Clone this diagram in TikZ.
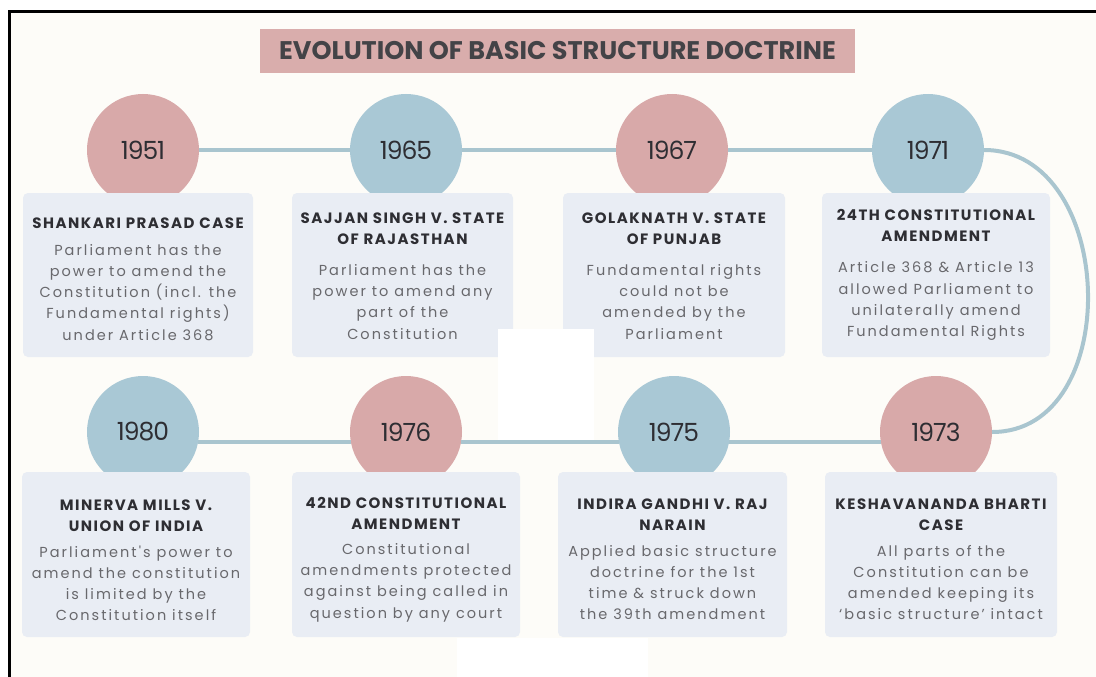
\documentclass[tikz,border=0pt]{standalone}
\usepackage{fontspec}
\setmainfont{Poppins}
\newfontfamily\yearfont[LetterSpace=-4]{Poppins}
\newfontfamily\headfont[LetterSpace=10]{Poppins}
\newfontfamily\bodyfont[LetterSpace=14]{Poppins}
\definecolor{rosefill}{HTML}{D8A9A9}
\definecolor{skyfill}{HTML}{A9C8D5}
\definecolor{railcol}{HTML}{A9C5CF}
\definecolor{cardfill}{HTML}{E9EDF4}
\definecolor{cream}{HTML}{FDFCF8}
\definecolor{ink}{HTML}{2E2E33}
\definecolor{grayink}{HTML}{68686C}
\definecolor{bannerfill}{HTML}{D9ADAC}
\newcommand\headtxt{\headfont\bfseries\fontsize{15}{21}\selectfont\color{ink}}
\newcommand\bodytxt{\bodyfont\mdseries\fontsize{14.5}{21.2}\selectfont\color{grayink}}
\newcommand\cardtext[2][0pt]{\raisebox{-#1}[\height][\depth]{\parbox{218pt}{\centering #2}}}

\begin{document}
\begin{tikzpicture}[x=1pt,y=-1pt,
  year/.style={circle,minimum size=112pt,inner sep=0pt,text=ink,
    font=\yearfont\fontsize{25}{25}\selectfont},
  card/.style={rounded corners=5pt,fill=cardfill,inner sep=0pt},
  rail/.style={draw=railcol,line width=4pt}]
\useasboundingbox (0,0) rectangle (1096,677);
\fill[white] (0,0) rectangle (1096,677);
\fill[cream] (9.5,11.5) rectangle (1096,677);
\draw[line width=3pt] (9.5,677)--(9.5,11.5)--(1096,11.5);

\node[fill=bannerfill,minimum width=595pt,minimum height=44pt,text=ink!90,
  font=\bfseries\fontsize{25.5}{25.5}\selectfont] (title) at (557.5,51)
  {EVOLUTION OF BASIC STRUCTURE DOCTRINE};

\foreach \yr/\x/\y/\col in {1951/143/150/rosefill,1965/406/150/skyfill,
  1967/672/150/rosefill,1971/928/150/skyfill,1980/143/432/skyfill,
  1976/406/432/rosefill,1975/674/432/skyfill,1973/936/432/rosefill}
\node[year,fill=\col] (c\yr) at (\x,\y) {\yr};

\draw[rail] (c1951)--(c1965);
\draw[rail] (c1965)--(c1967);
\draw[rail] (c1967)--(c1971);
\draw[rail] (c1971.east) .. controls +(133,0) and +(133,0) .. (c1973.east);
\draw[rail] (c1973.190)--(c1975.-10);
\draw[rail] (c1975.190)--(c1976.-10);
\draw[rail] (c1976.190)--(c1980.-10);

\node[card,minimum width=230pt,minimum height=164pt] (b1951) at (138,275)
  {\cardtext[4pt]{\headtxt SHANKARI PRASAD CASE\\[6pt]
   \bodytxt Parliament has the\\ power to amend the\\ Constitution (incl. the\\
   Fundamental rights)\\ under Article 368}};
\node[card,minimum width=221pt,minimum height=164pt] (b1965) at (402.5,275)
  {\cardtext[1pt]{\headtxt SAJJAN SINGH V. STATE\\ OF RAJASTHAN\\[10pt]
   \bodytxt Parliament has the\\ power to amend any\\ part of the\\ Constitution}};
\node[card,minimum width=222pt,minimum height=164pt] (b1967) at (674,275)
  {\cardtext[1pt]{\headtxt GOLAKNATH V. STATE\\ OF PUNJAB\\[10pt]
   \bodytxt Fundamental rights\\ could not be\\ amended by the\\ Parliament}};
\node[card,minimum width=228pt,minimum height=164pt] (b1971) at (936,275)
  {\cardtext{\headtxt 24TH CONSTITUTIONAL\\ AMENDMENT\\[10pt]
   \bodytxt Article 368 \& Article 13\\ allowed Parliament to\\ unilaterally amend\\
   Fundamental Rights}};

\node[card,minimum width=228pt,minimum height=165pt] (b1980) at (136,554.5)
  {\cardtext[6pt]{\headtxt MINERVA MILLS V.\\ UNION OF INDIA\\[4pt]
   \bodytxt Parliament's power to\\ amend the constitution\\ is limited by the\\
   Constitution itself}};
\node[card,minimum width=228pt,minimum height=165pt] (b1976) at (406,554.5)
  {\cardtext[5pt]{\headtxt 42ND CONSTITUTIONAL\\ AMENDMENT\\[4pt]
   \bodytxt Constitutional\\ amendments protected\\ against being called in\\
   question by any court}};
\node[card,minimum width=229pt,minimum height=165pt] (b1975) at (672.5,554.5)
  {\cardtext[5pt]{\headtxt INDIRA GANDHI V. RAJ\\ NARAIN\\[4pt]
   \bodytxt Applied basic structure\\ doctrine for the 1st\\ time \& struck down\\
   the 39th amendment}};
\node[card,minimum width=232pt,minimum height=165pt] (b1973) at (941,554.5)
  {\cardtext[5pt]{\headtxt KESHAVANANDA BHARTI\\ CASE\\[4pt]
   \bodytxt All parts of the\\ Constitution can be\\ amended keeping its\\
   ‘basic structure’ intact}};

\fill[white] (498,329) rectangle (594,440);
\fill[white] (457,638) rectangle (648,677);
\end{tikzpicture}
\end{document}
